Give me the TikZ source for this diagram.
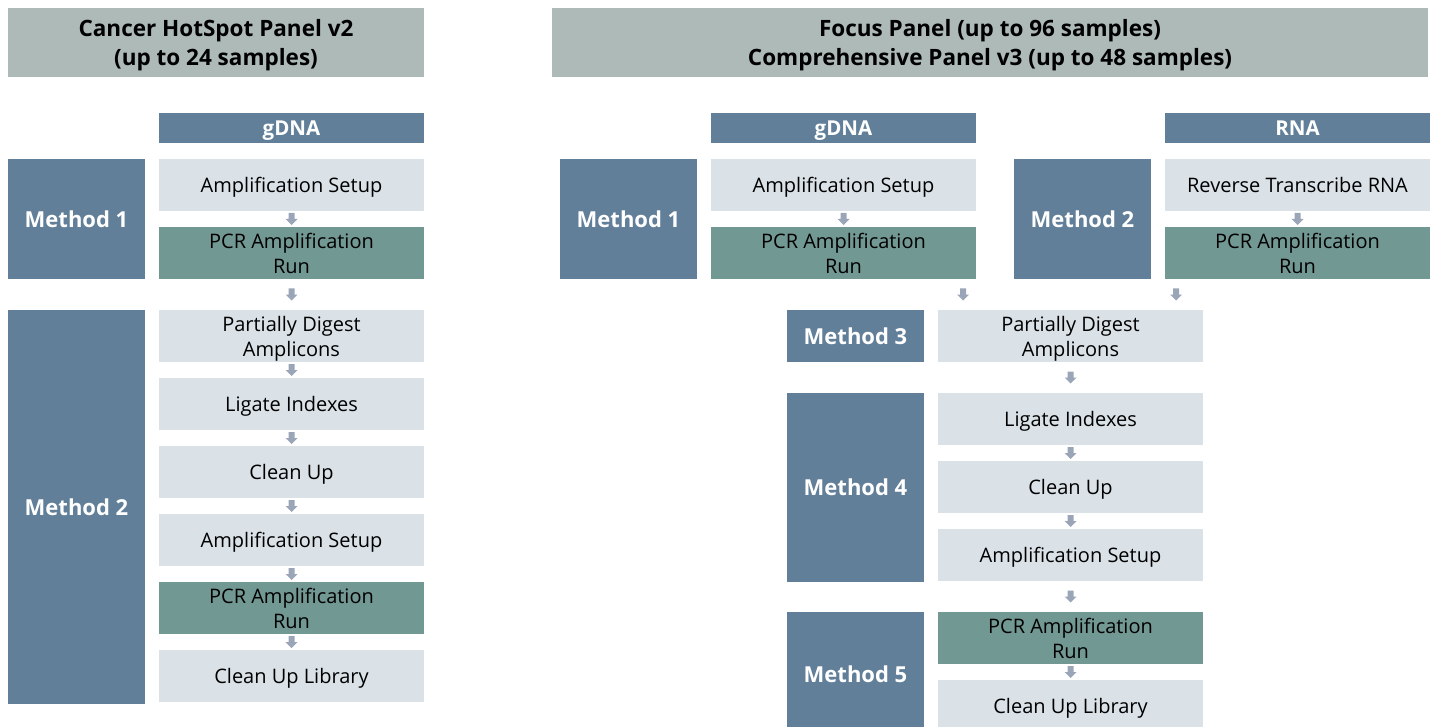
\documentclass[tikz,border=0pt]{standalone}
\usepackage{fontspec}
\setmainfont{Open Sans}
\definecolor{headgray}{HTML}{ADBAB7}
\definecolor{methblue}{HTML}{627F9A}
\definecolor{steplight}{HTML}{DAE2E8}
\definecolor{pcrteal}{HTML}{729893}
\definecolor{flowgray}{HTML}{9AA6B8}
\tikzset{panel/.style={fill=headgray, minimum width=#1, minimum height=69pt,
   align=center, text depth=0pt, font=\fontsize{22.5}{29}\selectfont\bfseries},
 source/.style={fill=methblue, text=white, minimum width=265pt, minimum height=30pt,
   text height=15pt, text depth=0pt, font=\fontsize{20.5}{22}\selectfont\bfseries},
 method/.style={fill=methblue, text=white, minimum width=137pt, minimum height=#1,
   font=\fontsize{22}{24}\selectfont\bfseries},
 stepbox/.style={fill=steplight, minimum width=265pt, minimum height=52pt,
   align=center, text depth=0pt, font=\fontsize{20}{25}\selectfont},
 pcrbox/.style={stepbox, fill=pcrteal},
 flow/.style={inner sep=0pt, minimum width=12pt, minimum height=12pt,
   path picture={\fill[flowgray]
     ([shift={(-3pt,6pt)}]path picture bounding box.center) -- ++(6pt,0pt)
     -- ++(0pt,-6pt) -- ++(3pt,0pt) -- ++(-6pt,-6pt) -- ++(-6pt,6pt)
     -- ++(3pt,0pt) -- cycle;}},
 }

\begin{document}
\begin{tikzpicture}[x=1pt, y=-1pt]
        \useasboundingbox (0,0) rectangle (1437,727);
        % Cancer HotSpot panel
        \node[panel=416pt] (hsp) at (216, 42.5) {Cancer HotSpot Panel v2\\(up to 24 samples)};
        \node[source] (gdnal) at (291.5, 128) {gDNA};
        \node[method=120pt] (mla) at (76.5, 219) {Method 1};
        \node[stepbox] (ampla) at (291.5, 185) {Amplification Setup};
        \node[pcrbox] (pcrla) at (291.5, 253) {PCR Amplification\\Run};
        \node[method=394pt] (mlb) at (76.5, 507) {Method 2};
        \node[stepbox] (pdl) at (291.5, 336) {Partially Digest\\Amplicons};
        \node[stepbox] (ligl) at (291.5, 404) {Ligate Indexes};
        \node[stepbox] (cul) at (291.5, 472) {Clean Up};
        \node[stepbox] (amplb) at (291.5, 540) {Amplification Setup};
        \node[pcrbox] (pcrlb) at (291.5, 608) {PCR Amplification\\Run};
        \node[stepbox] (libl) at (291.5, 676) {Clean Up Library};
        \path (ampla) -- node[flow]{} (pcrla);
        \path (pcrla) -- node[flow]{} (pdl);
        \path (pdl) -- node[flow]{} (ligl);
        \path (ligl) -- node[flow]{} (cul);
        \path (cul) -- node[flow]{} (amplb);
        \path (amplb) -- node[flow]{} (pcrlb);
        \path (pcrlb) -- node[flow]{} (libl);
        % Focus / Comprehensive panels
        \node[panel=876pt] (fcp) at (990, 42.5) {Focus Panel (up to 96 samples)\\Comprehensive Panel v3 (up to 48 samples)};
        \node[source] (gdnar) at (843.5, 128) {gDNA};
        \node[source] (rna) at (1297.5, 128) {RNA};
        \node[method=120pt] (mra) at (628.5, 219) {Method 1};
        \node[stepbox] (ampra) at (843.5, 185) {Amplification Setup};
        \node[pcrbox] (pcrra) at (843.5, 253) {PCR Amplification\\Run};
        \node[method=120pt] (mrb) at (1082.5, 219) {Method 2};
        \node[stepbox] (rtr) at (1297.5, 185) {Reverse Transcribe RNA};
        \node[pcrbox] (pcrrb) at (1297.5, 253) {PCR Amplification\\Run};
        \node[method=52pt] (mrc) at (855.5, 336) {Method 3};
        \node[stepbox] (pdr) at (1070.5, 336) {Partially Digest\\Amplicons};
        \node[method=189pt] (mrd) at (855.5, 487.5) {Method 4};
        \node[stepbox] (ligr) at (1070.5, 419) {Ligate Indexes};
        \node[stepbox] (cur) at (1070.5, 487) {Clean Up};
        \node[stepbox] (amprb) at (1070.5, 555) {Amplification Setup};
        \node[method=124pt] (mre) at (855.5, 674) {Method 5};
        \node[pcrbox] (pcrrc) at (1070.5, 638) {PCR Amplification\\Run};
        \node[stepbox] (libr) at (1070.5, 706) {Clean Up Library};
        \path (ampra) -- node[flow]{} (pcrra);
        \path (rtr) -- node[flow]{} (pcrrb);
        \path ([xshift=119.5pt]pcrra.south) -- node[flow]{} ([xshift=-107.5pt]pdr.north);
        \path ([xshift=-121.5pt]pcrrb.south) -- node[flow]{} ([xshift=105.5pt]pdr.north);
        \path (pdr) -- node[flow]{} (ligr);
        \path (ligr) -- node[flow]{} (cur);
        \path (cur) -- node[flow]{} (amprb);
        \path (amprb) -- node[flow]{} (pcrrc);
        \path (pcrrc) -- node[flow]{} (libr);
    \end{tikzpicture}
\end{document}
